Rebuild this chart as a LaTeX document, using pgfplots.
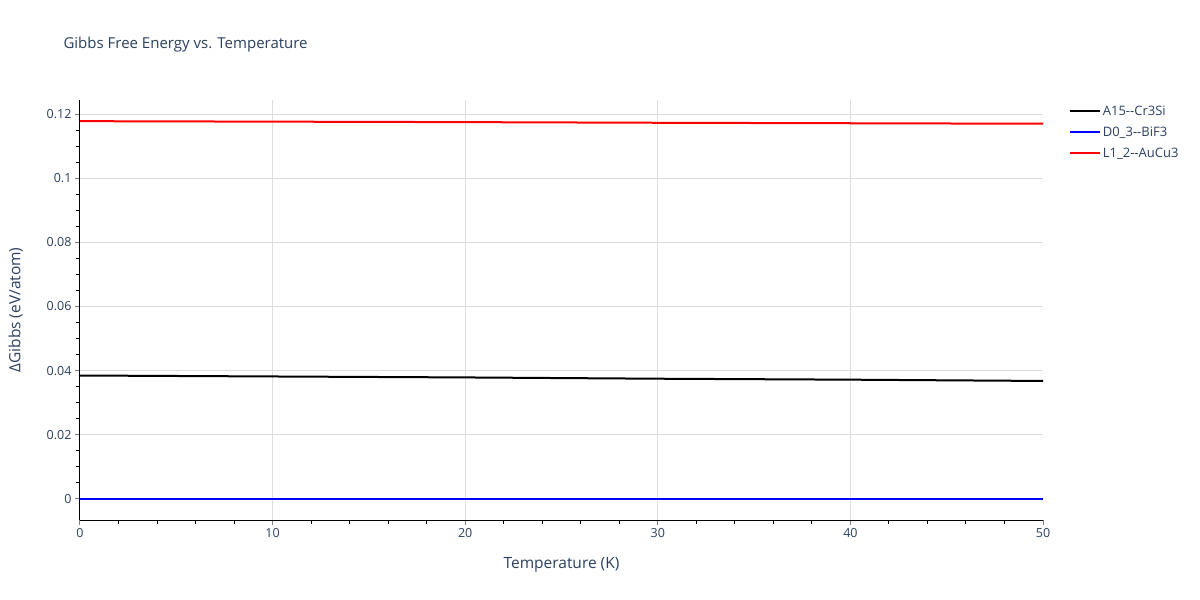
\documentclass[border=0pt]{standalone}
\usepackage{fontspec}
\setmainfont{Open Sans}
\usepackage{pgfplots}
\pgfplotsset{compat=1.18}
\definecolor{txt}{HTML}{2A3F5F}
\definecolor{gridc}{HTML}{DDDDDD}
\begin{document}
\begin{tikzpicture}
\path[use as bounding box] (-80pt,-80pt) rectangle (1120pt,520pt);
\begin{axis}[
  at={(0pt,0pt)}, anchor=south west,
  scale only axis,
  width=963pt, height=420pt,
  xmin=0, xmax=50,
  ymin=-0.00655, ymax=0.1244,
  axis x line*=bottom, axis y line*=left,
  axis line style={black, line width=1pt},
  xtick={0,10,20,30,40,50},
  ytick={0,0.02,0.04,0.06,0.08,0.1,0.12},
  minor x tick num=4,
  minor y tick num=3,
  tick align=outside,
  major tick length=5pt, minor tick length=4pt,
  major tick style={gray, line width=1pt},
  minor tick style={black, line width=1pt},
  ymajorgrids=true,
  grid style={gridc, line width=1pt},
  extra x ticks={10,20,30,40},
  extra x tick labels={},
  extra x tick style={xmajorgrids=true, major tick length=0pt},
  ticklabel style={font=\fontsize{12.5}{14}\selectfont, text=txt},
  /pgf/number format/assume math mode=true,
  /pgf/number format/fixed,
  xlabel={Temperature (K)},
  ylabel={ΔGibbs (eV/atom)},
  label style={font=\fontsize{15.5}{18}\selectfont, text=txt},
  xlabel style={at={(ticklabel cs:0.5)}, yshift=-8pt},
  ylabel style={yshift=17pt},
  legend style={at={(1.0235,0.996)}, anchor=north west, draw=none, fill=none,
    font=\fontsize{13}{15}\selectfont, text=txt, row sep=6pt,
    legend cell align=left},
  legend image code/.code={\draw[#1, line width=2pt] (0pt,0pt) -- (30pt,0pt);},
  clip=false,
]
\addplot[black, line width=2pt] coordinates {(0,0.0385) (10,0.0382) (20,0.0379) (30,0.0375) (40,0.0372) (50,0.0368)};
\addplot[blue, line width=2pt] coordinates {(0,0) (50,0)};
\addplot[red, line width=2pt] coordinates {(0,0.1178) (10,0.11765) (20,0.1175) (30,0.1173) (40,0.11715) (50,0.1170)};
\legend{A15{-}{-}Cr3Si, D0\_3{-}{-}BiF3, L1\_2{-}{-}AuCu3}
\end{axis}
\node[anchor=west, text=txt, font=\fontsize{15}{18}\selectfont] at (-20pt,475pt) {Gibbs Free Energy vs. Temperature};
\end{tikzpicture}
\end{document}
